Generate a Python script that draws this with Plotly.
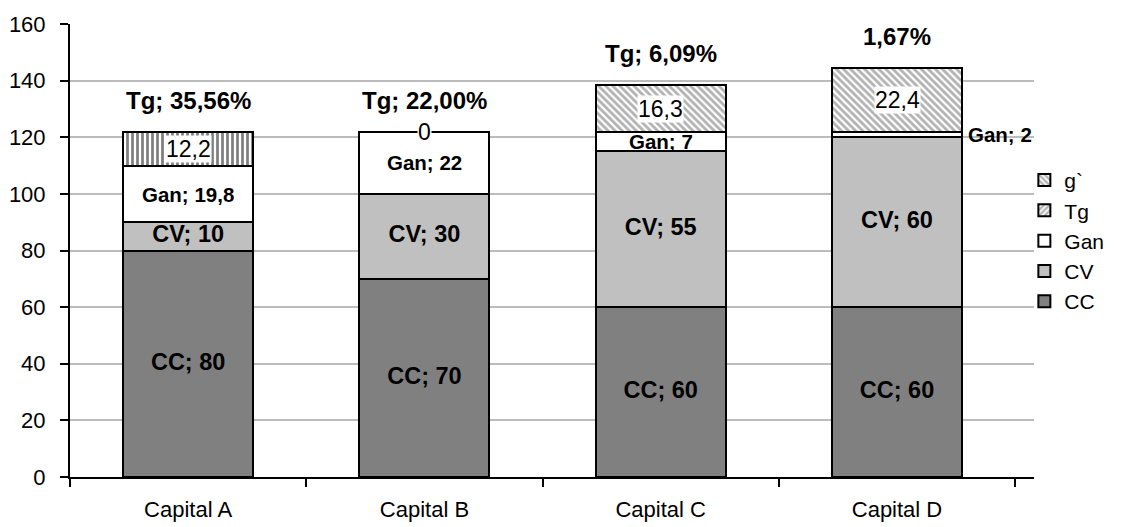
import plotly.graph_objects as go

# Categories and stacked series
capitals = ["Capital A", "Capital B", "Capital C", "Capital D"]
cc = [80, 70, 60, 60]
cv = [10, 30, 55, 60]
gan = [19.8, 22, 7, 2]
g_prime = [12.2, 0, 16.3, 22.4]
tg_rate = [35.56, 22.00, 6.09, 1.67]
tg_prefix = ["Tg; ", "Tg; ", "Tg; ", ""]

# Pattern used for the top segment of each bar
g_prime_shape = ["|", "\\", "\\", "\\"]
g_prime_fg = ["#000000", "#666666", "#666666", "#666666"]

FONT = "Liberation Sans, Arial, sans-serif"
LINE = dict(color="#000000", width=2)


def fmt(v):
    return f"{v:g}".replace(".", ",")


fig = go.Figure()

fig.add_trace(go.Bar(x=capitals, y=cc, name="CC",
                     marker=dict(color="#808080", line=LINE)))
fig.add_trace(go.Bar(x=capitals, y=cv, name="CV",
                     marker=dict(color="#c0c0c0", line=LINE)))
fig.add_trace(go.Bar(x=capitals, y=gan, name="Gan",
                     marker=dict(color="#ffffff", line=LINE)))
fig.add_trace(go.Bar(x=capitals, y=g_prime, name="g`", showlegend=False,
                     marker=dict(color="#ffffff", line=LINE,
                                 pattern=dict(shape=g_prime_shape,
                                              fgcolor=g_prime_fg,
                                              bgcolor="#ffffff",
                                              size=5, solidity=0.55))))
# Legend entries for the hatched series
fig.add_trace(go.Bar(x=capitals, y=[None] * len(capitals), name="Tg",
                     marker=dict(color="#ffffff", line=LINE,
                                 pattern=dict(shape="/", fgcolor="#666666",
                                              bgcolor="#ffffff", size=5,
                                              solidity=0.55))))
fig.add_trace(go.Bar(x=capitals, y=[None] * len(capitals), name="g`",
                     marker=dict(color="#ffffff", line=LINE,
                                 pattern=dict(shape="\\", fgcolor="#666666",
                                              bgcolor="#ffffff", size=5,
                                              solidity=0.55))))

# Segment positions derived from the stacked values
cc_mid = [v / 2 for v in cc]
cv_mid = [a + b / 2 for a, b in zip(cc, cv)]
gan_base = [a + b for a, b in zip(cc, cv)]
gan_mid = [a + b / 2 for a, b in zip(gan_base, gan)]
top_base = [a + b for a, b in zip(gan_base, gan)]
top_mid = [a + b / 2 for a, b in zip(top_base, g_prime)]
totals = [a + b for a, b in zip(top_base, g_prime)]

bold = dict(family=FONT, size=23.5, color="#000000")

fig.add_trace(go.Scatter(x=capitals, y=cc_mid, mode="text", showlegend=False,
                         text=[f"<b>CC; {fmt(v)}</b>" for v in cc],
                         textfont=bold, hoverinfo="skip"))
fig.add_trace(go.Scatter(x=capitals, y=cv_mid, mode="text", showlegend=False,
                         text=[f"<b>CV; {fmt(v)}</b>" for v in cv],
                         textfont=bold, hoverinfo="skip"))

gan_font = dict(family=FONT, size=20.5, color="#000000")
annotations = []
for i, cat in enumerate(capitals):
    # Gan label: inside the bar, or beside it when the segment is thin
    if gan[i] >= 5:
        annotations.append(dict(x=cat, y=gan_mid[i], text=f"<b>Gan; {fmt(gan[i])}</b>",
                                showarrow=False, font=gan_font))
    else:
        annotations.append(dict(x=cat, y=gan_mid[i], text=f"<b>Gan; {fmt(gan[i])}</b>",
                                showarrow=False, xanchor="left", xshift=69,
                                font=gan_font))
    # top segment value in a white box
    annotations.append(dict(x=cat, y=top_mid[i], text=fmt(g_prime[i]), showarrow=False,
                            bgcolor="#ffffff", borderpad=0,
                            font=dict(family=FONT, size=23, color="#000000")))
    # profit rate above the bar
    annotations.append(dict(x=cat, y=totals[i],
                            text=f"<b>{tg_prefix[i]}{tg_rate[i]:.2f}%</b>".replace(".", ","),
                            showarrow=False, yanchor="bottom", yshift=16,
                            font=dict(family=FONT, size=24, color="#000000")))

fig.update_layout(
    width=1132, height=527,
    margin=dict(l=70, r=98, t=24, b=50),
    barmode="stack", bargap=0.45,
    plot_bgcolor="#ffffff", paper_bgcolor="#ffffff",
    font=dict(family=FONT, size=22, color="#000000"),
    annotations=annotations,
    legend=dict(traceorder="reversed", x=0.99, xanchor="left",
                y=0.70, yanchor="top", font=dict(family=FONT, size=21),
                bgcolor="rgba(0,0,0,0)"),
)
fig.update_xaxes(showline=True, linecolor="#000000", linewidth=2,
                 ticks="outside", tickson="boundaries", ticklen=8,
                 tickwidth=2, tickcolor="#000000", showgrid=False,
                 ticklabelstandoff=12, automargin=False)
fig.update_yaxes(range=[0, 160], dtick=20, showline=True, linecolor="#000000",
                 linewidth=2, ticks="outside", ticklen=8, tickwidth=2,
                 tickcolor="#000000", showgrid=True, gridcolor="#bcbcbc",
                 gridwidth=1.5, zeroline=False, ticklabelstandoff=10,
                 automargin=False)

fig.write_html("out.html")
